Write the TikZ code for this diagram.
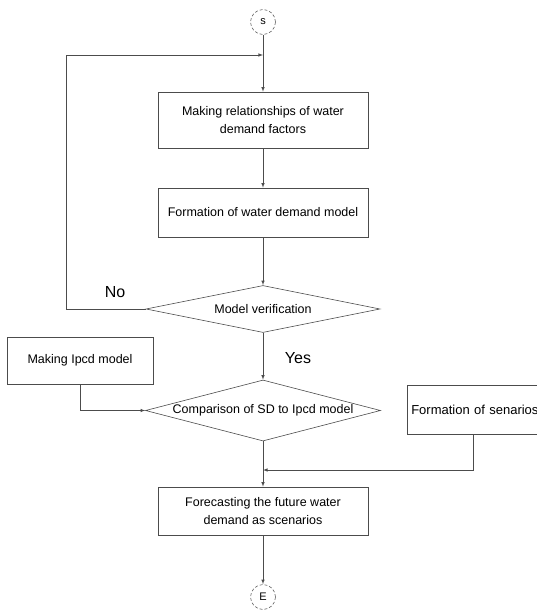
\documentclass[tikz,border=0pt]{standalone}
\usepackage{fontspec}
\setmainfont{Liberation Sans}
\usetikzlibrary{arrows,shapes.geometric}
\tikzset{flowbox/.style={draw=black!70, line width=0.6pt, rectangle, minimum width=210pt, align=center, font=\fontsize{12.5}{18}\selectfont}, decision/.style={draw=black!70, line width=0.6pt, diamond, inner sep=0pt, font=\fontsize{12.5}{15}\selectfont}, terminal/.style={draw=black!60, densely dashed, line width=0.6pt, circle, minimum size=25pt, inner sep=0pt, font=\fontsize{11}{13}\selectfont}, flowline/.style={draw=black!70, line width=0.6pt}, answer/.style={font=\fontsize{16}{18}\selectfont}}

\begin{document}
\begin{tikzpicture}[x=1pt,y=-1pt]
\useasboundingbox (0,0) rectangle (537,616);
\node[terminal] (start) at (263,22) {s};
\node[flowbox, minimum height=56pt] (relate) at (263,120) {Making relationships of water\\demand factors};
\node[flowbox, minimum height=49pt] (form) at (263,212.5) {Formation of water demand model};
\node[decision, minimum width=234pt, minimum height=47pt] (verify) at (263,309) {\makebox[0pt]{Model verification}};
\node[answer] (no) at (115,292) {No};
\node[answer] (yes) at (298,358) {Yes};
\node[flowbox, minimum width=146pt, minimum height=47pt] (ipcd) at (80,360.5) {Making Ipcd model};
\node[decision, minimum width=235pt, minimum height=61pt] (compare) at (263,410.5) {\makebox[0pt]{Comparison of SD to Ipcd model}};
\node[flowbox, minimum width=0pt, text width=128pt, align=left, inner sep=4pt, minimum height=49pt, anchor=west, font=\fontsize{13}{18}\selectfont] (senario) at (407,409.5) {Formation of senarios};
\node[flowbox, minimum height=48pt] (forecast) at (263,511) {Forecasting the future water\\demand as scenarios};
\node[terminal] (finish) at (263,597) {E};
\coordinate (loopin) at (263,55);
\coordinate (loopleft) at (66,55);
\coordinate (joint) at (263,470);
\coordinate (sbend) at ([xshift=66pt]senario.south west);

\draw[flowline,-latex] (start) -- (relate);
\draw[flowline,-latex] (relate) -- (form);
\draw[flowline,-latex] (form) -- (verify);
\draw[flowline,-latex] (verify) -- (compare);
\draw[flowline,-latex] (verify.west) -| (loopleft) -- (loopin);
\draw[flowline,-latex] (ipcd.south) |- (compare.west);
\draw[flowline,-latex] (compare) -- (forecast);
\draw[flowline,-latex] (sbend) |- (joint);
\draw[flowline,-latex] (forecast) -- (finish);
\end{tikzpicture}
\end{document}
